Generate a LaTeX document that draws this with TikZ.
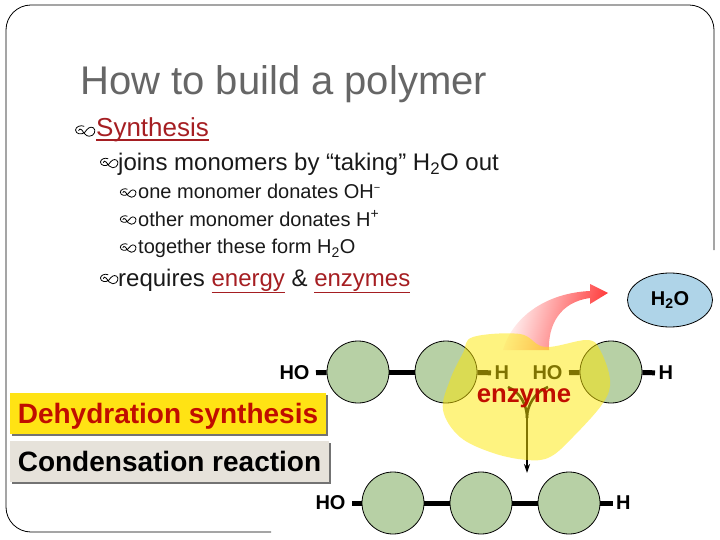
\documentclass[tikz,border=0pt]{standalone}
\usepackage{fontspec}
\setmainfont{Liberation Sans}
\usetikzlibrary{shapes.geometric,shadows,arrows.meta}
\definecolor{slidered}{HTML}{A51E22}
\definecolor{boxred}{HTML}{C00D00}
\definecolor{monogreen}{HTML}{B7D0A5}
\definecolor{waterblue}{HTML}{AFD4E8}
\definecolor{boxyellow}{HTML}{FFE314}
\definecolor{boxgrey}{HTML}{E6E2DA}
\newcommand{\fs}[1]{\fontsize{#1}{#1}\selectfont}

\begin{document}
\begin{tikzpicture}[x=1pt,y=-1pt,
        mono/.style = {draw, circle, fill=monogreen, minimum size=62pt, inner sep=0pt, line width=0.8pt},
        group/.style = {font=\fs{20}\bfseries, inner sep=3.5pt},
        hogroup/.style = {group, outer sep=3pt},
        bond/.style = {line width=5pt},
        line/.style = {anchor=base west, inner sep=0pt, text=black!90},
        tag/.style = {anchor=center, font=\fs{28}\bfseries, minimum height=41pt, text height=26pt, text depth=7pt, inner sep=0pt, drop shadow={shadow xshift=2pt, shadow yshift=-2pt, fill=black!55, opacity=1}},
        curl/.pic = {\draw[line width=0.8pt, line cap=round] (-1,-4.5) .. controls (-4,-6) and (-9,-4) .. (-9,-1) .. controls (-9,3) and (-3,4) .. (0,1) .. controls (2,-2) and (5,-5) .. (8,-3) .. controls (11,-1) and (9,5) .. (4,5) .. controls (1,5) and (-1,2) .. (-3,-1) .. controls (-4,-2.5) and (-6,-2) .. (-6,-0.5);},
        node distance=88pt]

        \useasboundingbox (0,0) rectangle (720,540);

        % slide frame
        \coordinate (framestart) at (714,250);
        \coordinate (frameend) at (271,532);
        \draw[line width=0.8pt, rounded corners=25pt] (framestart) -- (714,5) -- (6,5) -- (6,532) -- (frameend);

        % text
        \node[line, text=black!60, font=\fs{40}] (title) at (80,95) {How to build a polymer};
        \node[line, text=slidered, font=\fs{26}] (synth) at (96,137) {Synthesis};
        \draw[slidered, line width=2pt] ([yshift=-3pt]synth.base west) -- ([yshift=-3pt]synth.base east);
        \node[line, font=\fs{24}] (joins) at (118,170.5) {joins monomers by “taking” H\textsubscript{2}O out};
        \node[line, font=\fs{20}] (oneline) at (138,199) {one monomer donates OH\textsuperscript{\fs{11}−}};
        \node[line, font=\fs{20}] (otherline) at (138,226.5) {other monomer donates H\textsuperscript{+}};
        \node[line, font=\fs{20}] (togline) at (138,254) {together these form H\textsubscript{2}O};
        \node[line, font=\fs{24}] (reqline) at (118,286) {requires \textcolor{slidered}{\underline{energy}} \& \textcolor{slidered}{\underline{enzymes}}};

        % bullets
        \pic[scale=1.05] at (85,131) {curl};
        \pic[scale=0.95] at (109,163) {curl};
        \pic[scale=0.85] at (128,193) {curl};
        \pic[scale=0.85] at (128,220) {curl};
        \pic[scale=0.85] at (128,248) {curl};
        \pic[scale=0.95] at (109,279) {curl};

        % top row
        \node[mono] (a1) at (358,372) {};
        \node[mono] (a2) [right of=a1] {};
        \node[mono] (a3) at (611,372) {};
        \node[hogroup, anchor=east] (ho1) at (316,373) {HO};
        \node[group, anchor=west] (h1) at (491,373) {H};
        \node[hogroup, anchor=east] (ho2) at (569,373) {HO};
        \node[group, anchor=west] (h2) at (655,373) {H};

        \draw[bond] (ho1) -- (a1);
        \draw[bond] (a1) -- (a2);
        \draw[bond] (a2) -- (h1);
        \draw[bond] (ho2) -- (a3);
        \draw[bond] (a3) -- (h2);

        % bottom row
        \node[mono] (b1) at (393,503) {};
        \node[mono] (b2) [right of=b1] {};
        \node[mono] (b3) [right of=b2] {};
        \node[hogroup, anchor=east] (ho3) at (352,503) {HO};
        \node[group, anchor=west] (h3) at (612.5,503) {H};

        \draw[bond] (ho3) -- (b1);
        \draw[bond] (b1) -- (b2);
        \draw[bond] (b2) -- (b3);
        \draw[bond] (b3) -- (h3);

        % water leaving
        \node[draw, ellipse, fill=waterblue, minimum width=85pt, minimum height=54pt, inner sep=0pt, line width=0.8pt, font=\fs{20}\bfseries] (water) at (670,300) {H\textsubscript{2}O};
        \shade[left color=white, middle color=red!45, right color=red!80, shading angle=75] (503,350) .. controls (512,318) and (545,293) .. (590,291) -- (590,284) -- (608,293) -- (590,304) -- (590,298) .. controls (560,302) and (548,325) .. (549,350) -- cycle;

        % joining lines
        \coordinate (forkl) at (508,387);
        \coordinate (forkr) at (548,387);
        \coordinate (forkm) at (527,418);
        \coordinate (forkend) at (527,473);
        \draw[line width=2.5pt] (forkl) .. controls (520,392) and (527,405) .. (forkm);
        \draw[line width=2.5pt] (forkr) .. controls (535,392) and (527,405) .. (forkm);
        \draw[line width=2pt] (forkm) -- (527,462);

        % enzyme
        \fill[yellow!90!orange, opacity=0.5] plot[smooth cycle, tension=0.6] coordinates {(473,337) (520,334) (545,347) (587,340) (600,350) (610,380) (603,403) (573,437) (550,457) (527,460) (493,453) (460,437) (443,410) (450,380) (463,353)};
        \draw[line width=2pt, -{Stealth[length=9pt,width=6pt]}] (527,460) -- (forkend);
        \node[text=boxred, font=\fs{25.7}\bfseries, inner sep=0pt] (enzyme) at (524,398) {enzyme};

        % name boxes
        \node[tag, fill=boxyellow, text=boxred, minimum width=316pt] (dehyd) at (168,413.5) {Dehydration synthesis};
        \node[tag, fill=boxgrey, text=black, minimum width=319pt] (cond) at (169.5,461.5) {Condensation reaction};

\end{tikzpicture}
\end{document}
